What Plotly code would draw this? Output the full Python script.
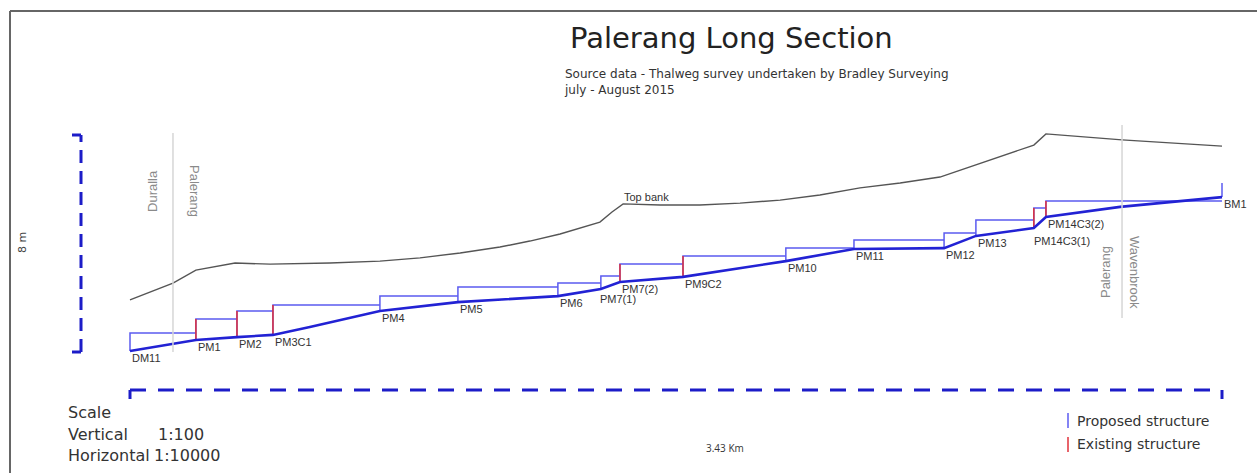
import plotly.graph_objects as go

# ---------------------------------------------------------------------------
# Survey data: chainage in km upstream of DM11, levels in m above DM11 datum
# ---------------------------------------------------------------------------
thalweg_km = [0.000, 0.207, 0.336, 0.449, 0.565, 0.785, 1.030, 1.344, 1.479,
              1.539, 1.737, 2.060, 2.274, 2.557, 2.657, 2.839, 2.877, 3.110, 3.430]
thalweg_m = [0.04, 0.44, 0.55, 0.63, 0.92, 1.51, 1.84, 2.06, 2.32,
             2.58, 2.77, 3.35, 3.80, 3.83, 4.28, 4.57, 4.98, 5.35, 5.71]

bank_km = [0.000, 0.135, 0.207, 0.330, 0.440, 0.628, 0.785, 0.911, 1.037, 1.162,
           1.256, 1.351, 1.476, 1.514, 1.549, 1.665, 1.790, 1.916, 2.042, 2.167,
           2.293, 2.419, 2.544, 2.839, 2.877, 3.116, 3.430]
bank_m = [1.92, 2.54, 3.02, 3.28, 3.24, 3.28, 3.35, 3.47, 3.65, 3.87,
          4.09, 4.35, 4.79, 5.16, 5.46, 5.42, 5.42, 5.49, 5.60, 5.79,
          6.05, 6.23, 6.45, 7.63, 8.04, 7.82, 7.59]

structure_names = ["DM11", "PM1", "PM2", "PM3C1", "PM4", "PM5", "PM6", "PM7(1)",
                   "PM7(2)", "PM9C2", "PM10", "PM11", "PM12", "PM13",
                   "PM14C3(1)", "PM14C3(2)", "BM1"]
structure_km = [0.000, 0.207, 0.336, 0.449, 0.785, 1.030, 1.344, 1.479,
                1.539, 1.737, 2.060, 2.274, 2.557, 2.657, 2.839, 2.877, 3.430]
structure_bed_m = [0.04, 0.44, 0.55, 0.63, 1.51, 1.84, 2.06, 2.32,
                   2.58, 2.77, 3.35, 3.80, 3.83, 4.28, 4.57, 4.98, 5.71]
structure_crest_m = [0.70, 1.22, 1.51, 1.73, 2.06, 2.40, 2.54, 2.80,
                     3.24, 3.54, 3.83, 4.13, 4.39, 4.87, 5.31, 5.57, 6.23]
structure_existing = [False, True, True, True, False, False, False, False,
                      True, True, False, False, False, False, True, True, False]

boundary_km = [0.135, 3.116]
boundary_names = [("Duralla", "Palerang"), ("Palerang", "Wavenbrook")]

section_length_km = 3.43
vertical_scale_m = 8

# ---------------------------------------------------------------------------
# Page geometry
# ---------------------------------------------------------------------------
W, H = 1257, 473
X0_PX, PX_PER_KM = 130, 1092 / 3.43      # chainage 0 sits at x=130 px
Y0_PX, PX_PER_M = 352, 217 / 8           # level 0 sits at y=352 px
x_range = [(0 - X0_PX) / PX_PER_KM, (W - X0_PX) / PX_PER_KM]
y_range = [(Y0_PX - H) / PX_PER_M, (Y0_PX - 0) / PX_PER_M]


def px(x):
    return x / W


def py(y):
    return 1 - y / H


BOX_BLUE = "#5b5bf0"
LINE_BLUE = "#2222d4"
EXIST_RED = "#e0303a"
BAR_BLUE = "#1c1cc8"

fig = go.Figure()

# Pool / crest outlines of each structure
box_x, box_y = [], []
red_x, red_y = [], []
n = len(structure_km)
for i in range(n):
    xs = [structure_km[i], structure_km[i]]
    ys = [structure_bed_m[i], structure_crest_m[i]]
    if i + 1 < n:
        xs.append(structure_km[i + 1])
        ys.append(structure_crest_m[i])
    box_x += xs + [None]
    box_y += ys + [None]
    if structure_existing[i]:
        red_x += [structure_km[i], structure_km[i], None]
        red_y += [structure_bed_m[i], structure_crest_m[i], None]

fig.add_trace(go.Scatter(x=box_x, y=box_y, mode="lines",
                         line=dict(color=BOX_BLUE, width=1.5),
                         hoverinfo="skip", showlegend=False))
fig.add_trace(go.Scatter(x=red_x, y=red_y, mode="lines",
                         line=dict(color=EXIST_RED, width=1.5),
                         hoverinfo="skip", showlegend=False))

# Top of bank
fig.add_trace(go.Scatter(x=bank_km, y=bank_m, mode="lines",
                         line=dict(color="#555555", width=1.4),
                         name="Top bank", showlegend=False))

# Thalweg
fig.add_trace(go.Scatter(x=thalweg_km, y=thalweg_m, mode="lines",
                         line=dict(color=LINE_BLUE, width=2.6),
                         name="Thalweg", showlegend=False))

annotations = []


def note(xp, yp, text, font, xanchor="left", yanchor="middle", **kw):
    annotations.append(dict(x=px(xp), y=py(yp), xref="paper", yref="paper",
                            text=text, showarrow=False, xanchor=xanchor,
                            yanchor=yanchor, font=font, **kw))


label_font = dict(family="Liberation Sans, Arial, sans-serif", size=11, color="#333333")
label_shift = {"PM7(1)": (-3, -2), "PM14C3(1)": (-2, -5), "PM14C3(2)": (0, 1)}
for name, xk, yb in zip(structure_names, structure_km, structure_bed_m):
    dx, dy = label_shift.get(name, (0, 1))
    annotations.append(dict(x=xk, y=yb, xref="x", yref="y", text=name,
                            showarrow=False, xanchor="left", yanchor="top",
                            xshift=dx, yshift=dy, font=label_font))

annotations.append(dict(x=1.545, y=5.71, xref="x", yref="y", text="Top bank",
                        showarrow=False, xanchor="left", yanchor="middle",
                        font=label_font))

# Catchment boundaries
shapes = []
boundary_spans = [(133, 352), (125, 318)]
boundary_label_y = [191, 272]
boundary_label_dx = [(-21, 22), (-17, 13)]
gray_font = dict(family="Liberation Sans, Arial, sans-serif", size=13, color="#8a8a8a")
for bk, (left_name, right_name), (ytop, ybot), yc, (dl, dr) in zip(
        boundary_km, boundary_names, boundary_spans, boundary_label_y, boundary_label_dx):
    shapes.append(dict(type="line", xref="x", yref="paper", x0=bk, x1=bk,
                       y0=py(ytop), y1=py(ybot),
                       line=dict(color="#d6d6d6", width=1.5)))
    annotations.append(dict(x=bk, y=py(yc), xref="x", yref="paper", text=left_name,
                            showarrow=False, textangle=-90, xshift=dl,
                            xanchor="center", yanchor="middle", font=gray_font))
    annotations.append(dict(x=bk, y=py(yc), xref="x", yref="paper", text=right_name,
                            showarrow=False, textangle=90, xshift=dr,
                            xanchor="center", yanchor="middle", font=gray_font))

# Vertical scale bar (8 m)
bar_x = px(81)
shapes.append(dict(type="line", xref="paper", yref="y", x0=bar_x, x1=bar_x,
                   y0=0, y1=vertical_scale_m,
                   line=dict(color=BAR_BLUE, width=3, dash="13px,8px")))
for yv in (0, vertical_scale_m):
    shapes.append(dict(type="line", xref="paper", yref="y", x0=px(72), x1=bar_x,
                       y0=yv, y1=yv, line=dict(color=BAR_BLUE, width=3)))
note(22, 243, f"{vertical_scale_m} m",
     dict(family="DejaVu Sans", size=11, color="#444444"),
     xanchor="center", textangle=-90)

# Horizontal scale bar (3.43 km)
bar_y = py(390)
shapes.append(dict(type="line", xref="x", yref="paper", x0=0, x1=section_length_km,
                   y0=bar_y, y1=bar_y,
                   line=dict(color=BAR_BLUE, width=3, dash="16px,12px")))
for xv in (0, section_length_km):
    shapes.append(dict(type="line", xref="x", yref="paper", x0=xv, x1=xv,
                       y0=bar_y, y1=py(399), line=dict(color=BAR_BLUE, width=3)))
note(725, 448, f"{section_length_km:.2f} Km",
     dict(family="Open Sans", size=10, color="#333333"), xanchor="center")

# Frame
shapes.append(dict(type="line", xref="paper", yref="paper", x0=px(10), x1=1,
                   y0=py(11), y1=py(11), line=dict(color="#666666", width=2)))
shapes.append(dict(type="line", xref="paper", yref="paper", x0=px(10), x1=px(10),
                   y0=py(11), y1=0, line=dict(color="#666666", width=2)))

# Titles
note(731, 38, "Palerang Long Section",
     dict(family="DejaVu Sans", size=29, color="#222222"), xanchor="center")
note(562, 65, "Source data - Thalweg survey undertaken by Bradley Surveying<br>july - August 2015",
     dict(family="DejaVu Sans", size=12, color="#333333"), yanchor="top", align="left")

# Scale note
scale_font = dict(family="DejaVu Sans", size=16, color="#333333")
for text, ypx in (("Scale", 412), ("Vertical", 434), ("Horizontal", 455)):
    note(66, ypx, text, scale_font)
for text, ypx, xpx in (("1:100", 434, 156), ("1:10000", 455, 152)):
    note(xpx, ypx, text, scale_font)

# Key
legend_font = dict(family="DejaVu Sans", size=14, color="#333333")
for color, text, ytop, ybot, ymid in ((BOX_BLUE, "Proposed structure", 413, 428, 421),
                                      (EXIST_RED, "Existing structure", 437, 452, 444)):
    shapes.append(dict(type="line", xref="paper", yref="paper", x0=px(1068), x1=px(1068),
                       y0=py(ytop), y1=py(ybot), line=dict(color=color, width=1.5)))
    note(1075, ymid, text, legend_font)

fig.update_layout(
    width=W, height=H,
    margin=dict(l=0, r=0, t=0, b=0),
    paper_bgcolor="white", plot_bgcolor="white",
    xaxis=dict(range=x_range, visible=False, fixedrange=True),
    yaxis=dict(range=y_range, visible=False, fixedrange=True),
    shapes=shapes, annotations=annotations,
    showlegend=False,
)

fig.write_html("out.html")
